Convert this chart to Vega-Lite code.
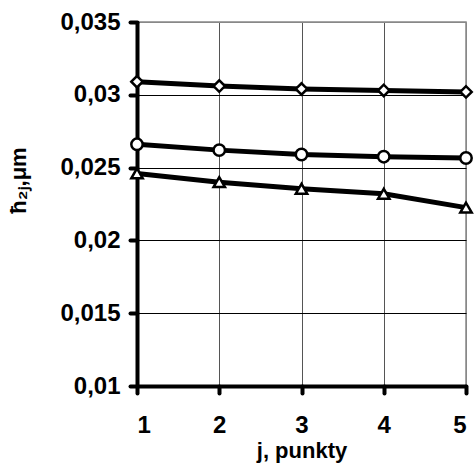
{
  "$schema": "https://vega.github.io/schema/vega-lite/v6.json",
  "width": 329,
  "height": 364,
  "autosize": "none",
  "padding": {"left": 137, "top": 22, "right": 9, "bottom": 78},
  "config": {
    "locale": {"number": {"decimal": ",", "thousands": " ", "grouping": [3], "currency": ["", ""]}},
    "view": {"stroke": "#888", "strokeWidth": 1.5},
    "font": "Liberation Sans",
    "axis": {
      "labelFont": "Liberation Sans",
      "labelFontSize": 24,
      "labelFontWeight": "bold",
      "labelColor": "#000",
      "titleFont": "Liberation Sans",
      "titleFontSize": 22,
      "titleFontWeight": "bold",
      "titleColor": "#000",
      "domainColor": "#000",
      "domainWidth": 4,
      "tickColor": "#000",
      "tickWidth": 4,
      "tickSize": 7,
      "tickCap": "round",
      "gridWidth": 1
    }
  },
  "data": {
    "values": [
      {"j": 1, "s": "A", "h": 0.0309},
      {"j": 2, "s": "A", "h": 0.0306},
      {"j": 3, "s": "A", "h": 0.0304},
      {"j": 4, "s": "A", "h": 0.0303},
      {"j": 5, "s": "A", "h": 0.0302},
      {"j": 1, "s": "B", "h": 0.0266},
      {"j": 2, "s": "B", "h": 0.0262},
      {"j": 3, "s": "B", "h": 0.0259},
      {"j": 4, "s": "B", "h": 0.02575},
      {"j": 5, "s": "B", "h": 0.02566},
      {"j": 1, "s": "C", "h": 0.0246},
      {"j": 2, "s": "C", "h": 0.0240},
      {"j": 3, "s": "C", "h": 0.02355},
      {"j": 4, "s": "C", "h": 0.0232},
      {"j": 5, "s": "C", "h": 0.02225}
    ]
  },
  "encoding": {
    "x": {
      "field": "j", "type": "quantitative",
      "scale": {"domain": [1, 5], "nice": false, "zero": false},
      "axis": {
        "values": [1, 2, 3, 4, 5], "format": "d", "title": "j, punkty",
        "labelPadding": 20, "titlePadding": 3,
        "gridColor": {"condition": {"test": "datum.value == 1 || datum.value == 5", "value": "#888"}, "value": "#555"}
      }
    },
    "y": {
      "field": "h", "type": "quantitative",
      "scale": {"domain": [0.01, 0.035], "nice": false, "zero": false},
      "axis": {
        "values": [0.01, 0.015, 0.02, 0.025, 0.03, 0.035], "format": ".3~f",
        "title": "ħ₂ⱼ,μm", "labelPadding": 10,
        "titleX": -129, "titleY": 158, "titleBaseline": "top", "titleAlign": "center", "titleAngle": -90,
        "gridColor": {"condition": {"test": "datum.value >= 0.035", "value": "#888"}, "value": "#000"}
      }
    }
  },
  "layer": [
    {
      "mark": {"type": "line", "color": "#000", "strokeWidth": 5},
      "encoding": {"detail": {"field": "s"}}
    },
    {
      "mark": {"type": "point", "filled": true, "fill": "#fff", "stroke": "#000", "strokeWidth": 2.5, "size": 130, "opacity": 1},
      "encoding": {
        "shape": {
          "field": "s", "type": "nominal",
          "scale": {"domain": ["A", "B", "C"], "range": ["diamond", "circle", "triangle-up"]},
          "legend": null
        }
      }
    }
  ]
}
